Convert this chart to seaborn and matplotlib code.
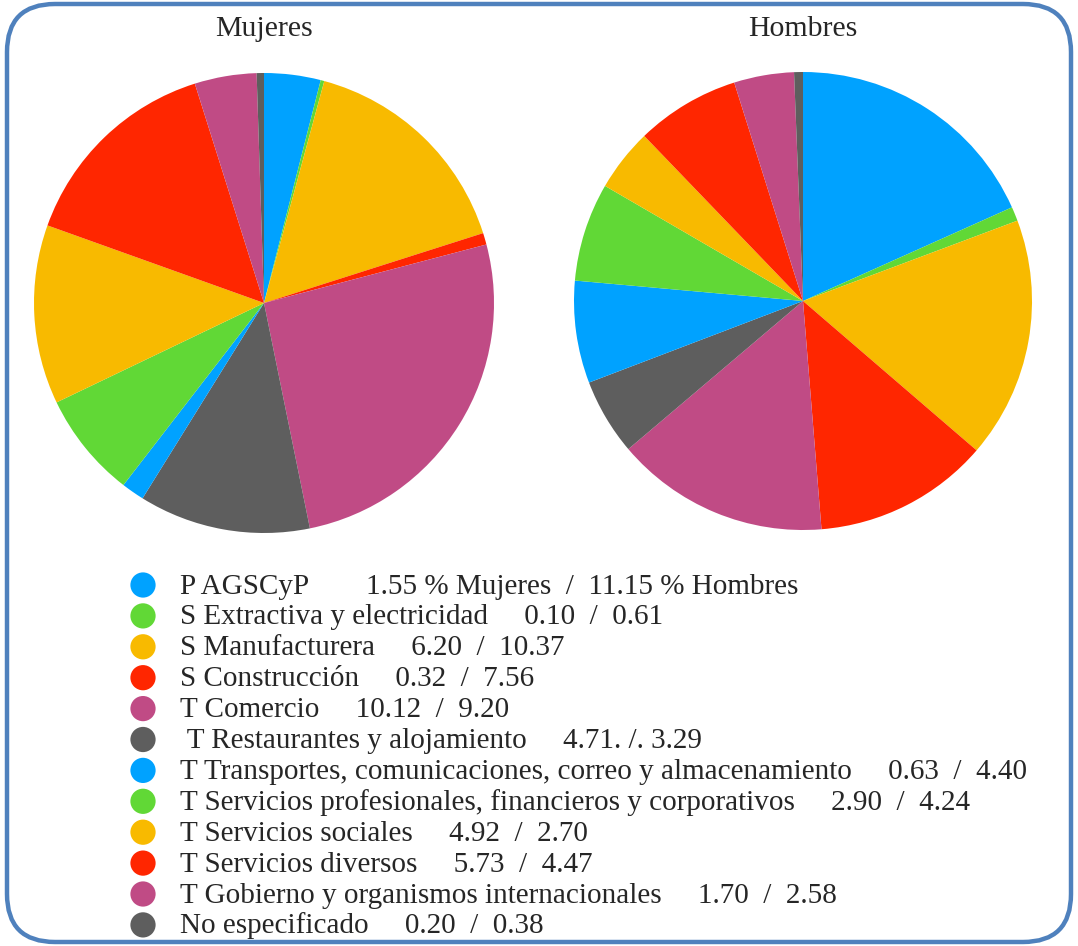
"""Two pies: employment by sector, Mujeres vs Hombres."""

import matplotlib.pyplot as plt
import seaborn as sns
from matplotlib.patches import FancyBboxPatch

sectors = [
    "P AGSCyP",
    "S Extractiva y electricidad",
    "S Manufacturera",
    "S Construcción",
    "T Comercio",
    "T Restaurantes y alojamiento",
    "T Transportes, comunicaciones, correo y almacenamiento",
    "T Servicios profesionales, financieros y corporativos",
    "T Servicios sociales",
    "T Servicios diversos",
    "T Gobierno y organismos internacionales",
    "No especificado",
]
mujeres = [1.55, 0.10, 6.20, 0.32, 10.12, 4.71, 0.63, 2.90, 4.92, 5.73, 1.70, 0.20]
hombres = [11.15, 0.61, 10.37, 7.56, 9.20, 3.29, 4.40, 4.24, 2.70, 4.47, 2.58, 0.38]
legend_text = [
    "P AGSCyP        1.55 % Mujeres  /  11.15 % Hombres",
    "S Extractiva y electricidad     0.10  /  0.61",
    "S Manufacturera     6.20  /  10.37",
    "S Construcción     0.32  /  7.56",
    "T Comercio     10.12  /  9.20",
    " T Restaurantes y alojamiento     4.71. /. 3.29",
    "T Transportes, comunicaciones, correo y almacenamiento     0.63  /  4.40",
    "T Servicios profesionales, financieros y corporativos     2.90  /  4.24",
    "T Servicios sociales     4.92  /  2.70",
    "T Servicios diversos     5.73  /  4.47",
    "T Gobierno y organismos internacionales     1.70  /  2.58",
    "No especificado     0.20  /  0.38",
]
base = ["#00A2FF", "#61D836", "#F8BA00", "#FF2600", "#C04B85", "#5E5E5E"]
colors = base + base

sns.set_style("white")
plt.rcParams["font.family"] = ["Liberation Serif", "DejaVu Serif"]

W, H = 1078, 946
fig = plt.figure(figsize=(W / 100, H / 100), dpi=100)

# overlay in pixel coords (y down) for frame and legend
bg = fig.add_axes([0, 0, 1, 1])
bg.set_xlim(0, W)
bg.set_ylim(H, 0)
bg.axis("off")
bg.add_patch(
    FancyBboxPatch(
        (7, 4), W - 14, H - 8,
        boxstyle="round,pad=0,rounding_size=48",
        fill=False, edgecolor="#4F81BD", linewidth=3.2,
    )
)


def pie_axes(cx, cy, r):
    ax = fig.add_axes([(cx - r) / W, (H - cy - r) / H, 2 * r / W, 2 * r / H])
    return ax


for vals, title, (cx, cy, r) in [
    (mujeres, "Mujeres", (264, 303, 230)),
    (hombres, "Hombres", (803, 301, 229)),
]:
    ax = pie_axes(cx, cy, r)
    ax.pie(vals, colors=colors, startangle=90, counterclock=False,
           wedgeprops=dict(linewidth=0))
    ax.set_xlim(-1, 1)
    ax.set_ylim(-1, 1)
    ax.axis("off")
    bg.text(cx, 36, title, ha="center", va="baseline", fontsize=21.5)

rows = [585 + i * 30.9 for i in range(len(sectors))]
sns.scatterplot(x=[143] * len(sectors), y=rows, hue=sectors, palette=colors,
                s=330, linewidth=0, legend=False, ax=bg)
for y, txt in zip(rows, legend_text):
    bg.text(180, y + 8.5, txt, ha="left", va="baseline", fontsize=21)

fig.savefig("out.png", dpi=100)
